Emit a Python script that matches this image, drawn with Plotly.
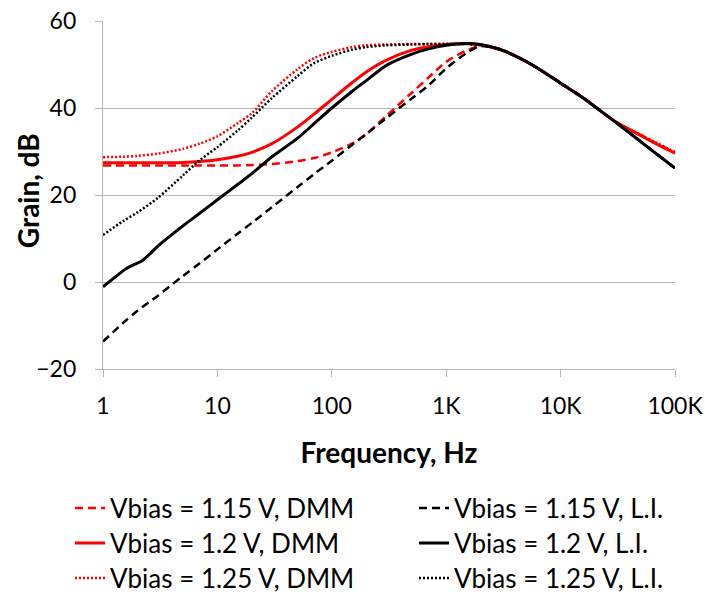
import plotly.graph_objects as go

freq = [1, 1.5, 2, 3, 5, 7, 10, 15, 20, 30, 50, 70, 100, 150, 200, 300, 500, 700,
        1000, 1500, 2000, 3000, 5000, 7000, 10000, 15000, 20000, 30000, 50000, 70000, 100000]

dmm_115 = [26.8, 26.8, 26.8, 26.8, 26.8, 26.8, 26.8, 26.8, 26.9, 27.1, 27.8, 28.5, 29.8, 31.8, 34.0,
           38.2, 43.5, 47.0, 50.6, 53.2, 54.3, 53.5, 50.8, 48.4, 45.8, 42.8, 40.3, 36.9, 33.8, 31.8, 29.8]
li_115 = [-13.7, -9.4, -6.6, -3.2, 1.4, 4.3, 7.5, 11.1, 13.6, 17.2, 21.8, 24.8, 27.9, 31.5, 34.0,
          37.7, 42.2, 45.2, 49.1, 52.6, 54.2, 53.4, 50.7, 48.4, 45.7, 42.7, 40.3, 36.8, 32.3, 29.3, 26.2]
dmm_12 = [27.4, 27.4, 27.4, 27.4, 27.5, 27.7, 28.1, 28.9, 29.8, 31.8, 35.6, 38.6, 42.0, 45.8, 48.3,
          51.0, 53.3, 54.1, 54.6, 54.8, 54.5, 53.4, 50.7, 48.4, 45.7, 42.7, 40.3, 36.9, 33.7, 31.6, 29.6]
freq_li_12 = [1, 1.3, 1.6, 1.9, 2.2, 2.6, 3, 5, 7, 10, 15, 20, 30, 50, 70, 100, 150, 200, 300, 500, 700,
              1000, 1500, 2000, 3000, 5000, 7000, 10000, 15000, 20000, 30000, 50000, 70000, 100000]
li_12 = [-1.1, 1.3, 3.1, 4.1, 4.9, 6.6, 8.2, 12.9, 15.8, 18.9, 22.4, 24.9, 28.8, 33.0, 36.4, 40.0,
         43.8, 46.3, 49.8, 52.4, 53.6, 54.4, 54.8, 54.6, 53.4, 50.7, 48.4, 45.7, 42.7, 40.3, 36.8,
         32.3, 29.3, 26.2]
dmm_125 = [28.7, 28.8, 29.0, 29.5, 30.6, 31.8, 33.5, 36.5, 38.8, 43.9, 48.9, 51.5, 52.9, 54.0, 54.4,
           54.6, 54.7, 54.7, 54.7, 54.7, 54.5, 53.4, 50.7, 48.4, 45.7, 42.7, 40.3, 36.9, 33.9, 31.9, 29.9]
li_125 = [10.8, 14.0, 16.0, 19.3, 24.5, 28.0, 31.0, 34.8, 37.8, 42.3, 47.3, 50.3, 52.0, 53.4, 54.0,
          54.4, 54.6, 54.7, 54.7, 54.7, 54.5, 53.4, 50.7, 48.4, 45.7, 42.7, 40.3, 36.8, 32.3, 29.3, 26.2]

x_tickvals = [1, 10, 100, 1000, 10000, 100000]
x_ticktext = ["1", "10", "100", "1K", "10K", "100K"]

RED = "#ff0000"
BLK = "#000000"
DASH = "8px,5px"
DOT = "2px,2px"

series = [
    ("Vbias = 1.15 V, DMM", freq, dmm_115, RED, DASH, 2.5, "legend"),
    ("Vbias = 1.2 V, DMM", freq, dmm_12, RED, "solid", 3, "legend3"),
    ("Vbias = 1.25 V, DMM", freq, dmm_125, RED, DOT, 2.5, "legend5"),
    ("Vbias = 1.15 V, L.I.", freq, li_115, BLK, DASH, 2.5, "legend2"),
    ("Vbias = 1.2 V, L.I.", freq_li_12, li_12, BLK, "solid", 3, "legend4"),
    ("Vbias = 1.25 V, L.I.", freq, li_125, BLK, DOT, 2.5, "legend6"),
]

fig = go.Figure()
for name, xs, ys, col, dash, w, lg in series:
    fig.add_trace(go.Scatter(x=xs, y=ys, name=name, mode="lines",
                             line=dict(color=col, dash=dash, width=w, shape="spline", smoothing=0.8),
                             legend=lg, showlegend=True))

GRID = "#b5b5b5"
fig.update_layout(
    width=705, height=595,
    margin=dict(l=103, r=30, t=21, b=226, autoexpand=False),
    plot_bgcolor="white", paper_bgcolor="white",
    font=dict(family="Lato", color="black"),
    xaxis=dict(type="log", range=[0, 5], tickvals=x_tickvals, ticktext=x_ticktext,
               showgrid=False, showline=True, linecolor=GRID, linewidth=1.3,
               ticks="outside", ticklen=7, tickcolor=GRID, tickwidth=1.3,
               tickfont=dict(size=23), ticklabelstandoff=9,
               title=dict(text="Frequency, Hz", font=dict(size=28, weight="bold"), standoff=25)),
    yaxis=dict(range=[-20, 60], tickvals=[-20, 0, 20, 40, 60],
               showgrid=True, gridcolor=GRID, gridwidth=1.3, zeroline=False,
               showline=True, linecolor=GRID, linewidth=1.3,
               ticks="outside", ticklen=7, tickcolor=GRID, tickwidth=1.3,
               tickfont=dict(size=23), ticklabelstandoff=14),
    annotations=[dict(text="<b>Grain, dB</b>", textangle=-90, xref="paper", yref="paper",
                      x=-0.131, y=0.511, xanchor="center", yanchor="middle", showarrow=False,
                      font=dict(size=28))],
)

col_px = [70, 414]
row_py = [508, 543, 578]
names = ["legend", "legend2", "legend3", "legend4", "legend5", "legend6"]
legs = {}
for i, nm in enumerate(names):
    legs[nm] = dict(xref="container", yref="container",
                    x=col_px[i % 2] / 705, y=1 - row_py[i // 2] / 595,
                    xanchor="left", yanchor="middle",
                    font=dict(size=26), bgcolor="rgba(0,0,0,0)", visible=True)
fig.update_layout(**legs)

fig.write_html("out.html")
